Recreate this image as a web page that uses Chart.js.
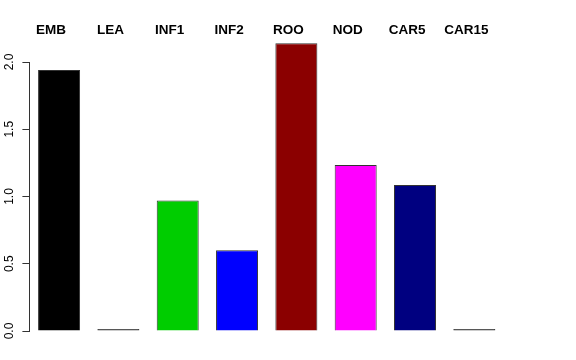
<!DOCTYPE html>
<html>
<head>
<meta charset="utf-8">
<script src="https://cdn.jsdelivr.net/npm/chart.js@4/dist/chart.umd.min.js"></script>
<style>
  html, body { margin: 0; padding: 0; background: #fff; }
</style>
</head>
<body>
<canvas id="c" width="576" height="360" style="display:block;width:576px;height:360px"></canvas>
<script>
const categories = ["EMB", "LEA", "INF1", "INF2", "ROO", "NOD", "CAR5", "CAR15"];
const values = [1.94, 0, 0.97, 0.60, 2.14, 1.235, 1.085, 0];
const barColors = ["#000000", "#333333", "#00CD00", "#0000FF", "#8B0000", "#FF00FF", "#000080", "#333333"];
const yTicks = [0, 0.5, 1.0, 1.5, 2.0];

const ctx = document.getElementById('c').getContext('2d');
new Chart(ctx, {
  type: 'bar',
  data: {
    labels: categories,
    datasets: [{
      data: values,
      backgroundColor: barColors,
      borderColor: '#333333',
      borderWidth: 1,
      minBarLength: 2,
      barPercentage: 1,
      categoryPercentage: 0.708,
      clip: false
    }]
  },
  options: {
    responsive: false,
    animation: false,
    devicePixelRatio: 1,
    layout: { padding: { left: 0, right: 72, top: 0, bottom: 29 } },
    plugins: { legend: { display: false }, tooltip: { enabled: false } },
    scales: {
      x: {
        position: 'top',
        grid: { display: false, drawTicks: false },
        border: { display: false },
        ticks: {
          color: '#000',
          font: { family: 'Liberation Sans, Arial, sans-serif', size: 13.5, weight: 'bold' },
          padding: 24,
          labelOffset: -8,
          autoSkip: false,
          maxRotation: 0,
          minRotation: 0
        },
        afterFit: (s) => { s.height = 62; }
      },
      y: {
        min: 0,
        max: 2.0,
        afterBuildTicks: (s) => { s.ticks = yTicks.map(v => ({ value: v })); },
        grid: { drawOnChartArea: false, drawTicks: true, tickLength: 7, color: '#333333', lineWidth: 1 },
        border: { display: true, color: '#333333', width: 1 },
        ticks: {
          color: '#000',
          font: { family: 'Liberation Sans, Arial, sans-serif', size: 12 },
          minRotation: 90,
          maxRotation: 90,
          crossAlign: 'center',
          padding: 4,
          callback: (v) => Number(v).toFixed(1)
        },
        afterFit: (s) => { s.width = 29.4; }
      }
    }
  }
});
</script>
</body>
</html>
